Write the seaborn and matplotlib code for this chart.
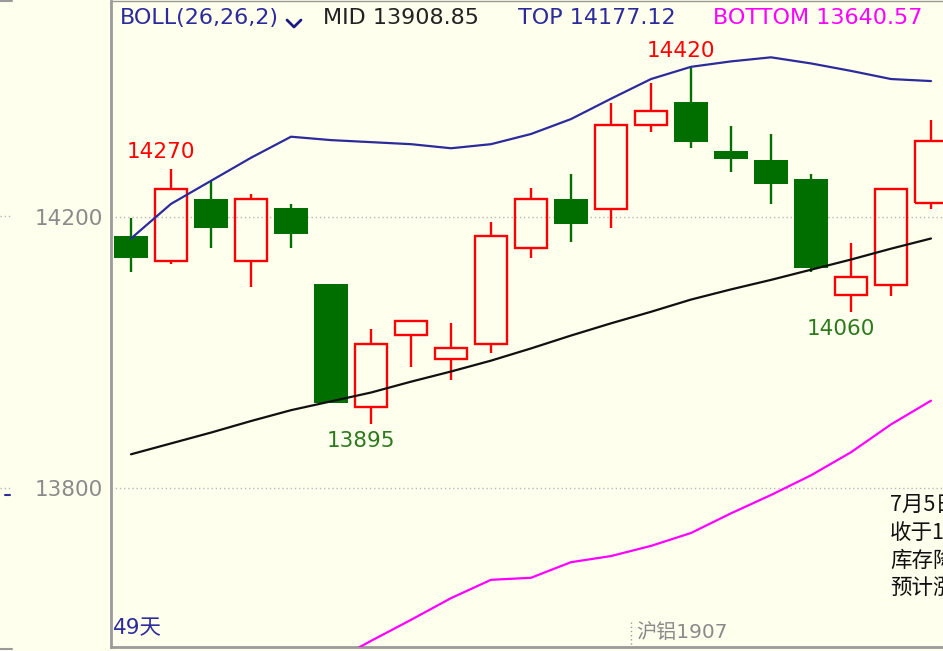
import matplotlib
matplotlib.use("Agg")
import matplotlib.pyplot as plt
import pandas as pd
import seaborn as sns
from matplotlib.lines import Line2D

# daily candles (Shanghai aluminium 1907), 21 sessions in view
days = list(range(21))
open_ = [14172, 14135, 14226, 14135, 14213, 14101, 13919, 14026, 13991, 14012, 14154,
         14226, 14212, 14335, 14369, 14297, 14284, 14256, 14085, 14100, 14221]
high = [14198, 14270, 14253, 14234, 14219, 14101, 14035, 14047, 14043, 14193, 14243,
        14263, 14368, 14397, 14420, 14334, 14322, 14263, 14162, 14241, 14343]
low = [14119, 14131, 14154, 14096, 14154, 13925, 13895, 13978, 13960, 13999, 14140,
       14163, 14184, 14325, 14301, 14266, 14219, 14119, 14060, 14084, 14212]
close = [14140, 14241, 14184, 14226, 14175, 13925, 14013, 14047, 14006, 14171, 14226,
         14190, 14335, 14356, 14310, 14285, 14249, 14125, 14112, 14241, 14312]

# Bollinger bands BOLL(26,26,2)
upper = [14168, 14219, 14253, 14287, 14318, 14313, 14310, 14307, 14301, 14307, 14322,
         14344, 14374, 14403, 14421, 14429, 14435, 14426, 14415, 14403, 14400]
mid = [13850, 13866, 13882, 13899, 13915, 13928, 13941, 13957, 13972, 13988, 14006,
       14025, 14043, 14060, 14078, 14093, 14107, 14122, 14137, 14153, 14168]
lower = [13532, 13513, 13512, 13510, 13512, 13543, 13575, 13606, 13638, 13665, 13668,
         13691, 13700, 13715, 13734, 13763, 13790, 13819, 13853, 13894, 13929]

y_ticks = [13800, 14200]
peak_days = [1, 14]
trough_days = [6, 18]
note_lines = ["7月5日沪铝", "收于14312", "库存降", "预计涨"]

BG = "#ffffee"
RED = "#ff0000"
GREEN = "#006f00"
NAVY = "#2b2b9c"

sns.set_style("white", {"axes.facecolor": BG, "figure.facecolor": BG})
plt.rcParams["font.family"] = ["DejaVu Sans", "Noto Sans CJK SC"]

fig = plt.figure(figsize=(9.43, 6.51), dpi=100)
ax = fig.add_axes([111 / 943, 4 / 651, 1 - 111 / 943, 646 / 651])

bands = pd.DataFrame({"day": days, "upper": upper, "mid": mid, "lower": lower})

# candles
for d, o, h, l, c in zip(days, open_, high, low, close):
    top, bot = max(o, c), min(o, c)
    if c >= o:
        ax.bar(d, top - bot, bottom=bot, width=0.82, facecolor="none",
               edgecolor=RED, linewidth=1.7, zorder=3)
        col = RED
    else:
        ax.bar(d, top - bot, bottom=bot, width=0.85, color=GREEN,
               linewidth=0, zorder=3)
        col = GREEN
    if h > top:
        ax.vlines(d, top, h, color=col, linewidth=1.7, zorder=2)
    if l < bot:
        ax.vlines(d, l, bot, color=col, linewidth=1.7, zorder=2)

sns.lineplot(data=bands, x="day", y="upper", color=NAVY, linewidth=1.6, ax=ax, zorder=4)
sns.lineplot(data=bands, x="day", y="mid", color="#101010", linewidth=1.6, ax=ax, zorder=4)
sns.lineplot(data=bands, x="day", y="lower", color="#ff00ff", linewidth=1.6, ax=ax, zorder=4)

for d in peak_days:
    ax.annotate(f"{high[d]}", xy=(d, high[d]), xytext=(-10, 7), textcoords="offset pixels",
                ha="center", va="bottom", color=RED, fontsize=15.5, zorder=5)
for d in trough_days:
    ax.annotate(f"{low[d]}", xy=(d, low[d]), xytext=(-10, -7), textcoords="offset pixels",
                ha="center", va="top", color="#2c7a1c", fontsize=15.5, zorder=5)

ax.set_xlim(-0.5, 20.3)
ax.set_ylim(13566, 14518)
ax.set_yticks(y_ticks)
ax.set_yticklabels([str(v) for v in y_ticks])
ax.set_xticks([])
ax.set_xlabel("")
ax.set_ylabel("")
ax.tick_params(axis="y", length=0, pad=6, labelsize=15.5, labelcolor="#8a8a8a")
ax.grid(axis="y", color="#b8b8b8", linestyle=(0, (1, 2)), linewidth=1, zorder=0)
ax.set_axisbelow(True)
for side in ["left", "bottom", "top"]:
    ax.spines[side].set_color("#9a9a9a")
    ax.spines[side].set_linewidth(2)
ax.spines["top"].set_linewidth(1)
ax.spines["right"].set_visible(False)

# header line
H = 651
W = 943
fig.text(120 / W, 1 - 18 / H, "BOLL(26,26,2)", color=NAVY, fontsize=16, va="center")
fig.add_artist(Line2D([287 / W, 294 / W, 301 / W], [1 - 20 / H, 1 - 27 / H, 1 - 20 / H],
                      color="#1a1a80", linewidth=2))
fig.text(323 / W, 1 - 18 / H, "MID 13908.85", color="#222222", fontsize=16, va="center")
fig.text(518 / W, 1 - 18 / H, "TOP 14177.12", color=NAVY, fontsize=16, va="center")
fig.text(713 / W, 1 - 18 / H, "BOTTOM 13640.57", color="#ff00ff", fontsize=16, va="center")

# footer
fig.text(113 / W, 1 - 628 / H, "49天", color=NAVY, fontsize=15.5, va="center")
fig.text(636 / W, 1 - 632 / H, "沪铝1907", color="#8a8a8a", fontsize=14.5, va="center")
fig.add_artist(Line2D([631 / W, 631 / W], [1 - 622 / H, 1 - 646 / H],
                      color="#9a9a9a", linestyle=(0, (1, 2)), linewidth=1))

# note box at right edge (cut off in the original view)
for k, line in enumerate(note_lines):
    fig.text(890 / W, 1 - (505 + 28 * k) / H, line, color="#111111", fontsize=15.5,
             va="center", family=["Noto Sans CJK SC", "DejaVu Sans"])

# remnants of left panel
for yy in [216, 488]:
    fig.add_artist(Line2D([0, 12 / W], [1 - yy / H, 1 - yy / H], color="#b8b8b8",
                          linestyle=(0, (1, 2)), linewidth=1))
fig.add_artist(Line2D([0, 12 / W], [1 - 1 / H, 1 - 1 / H], color="#9a9a9a", linewidth=1.5))
fig.add_artist(Line2D([0, 12 / W], [1 - 649 / H, 1 - 649 / H], color="#9a9a9a", linewidth=1.5))
fig.add_artist(Line2D([5 / W, 10 / W], [1 - 495 / H, 1 - 495 / H], color=NAVY, linewidth=1.5))

fig.savefig("out.png", dpi=100, facecolor=BG)
